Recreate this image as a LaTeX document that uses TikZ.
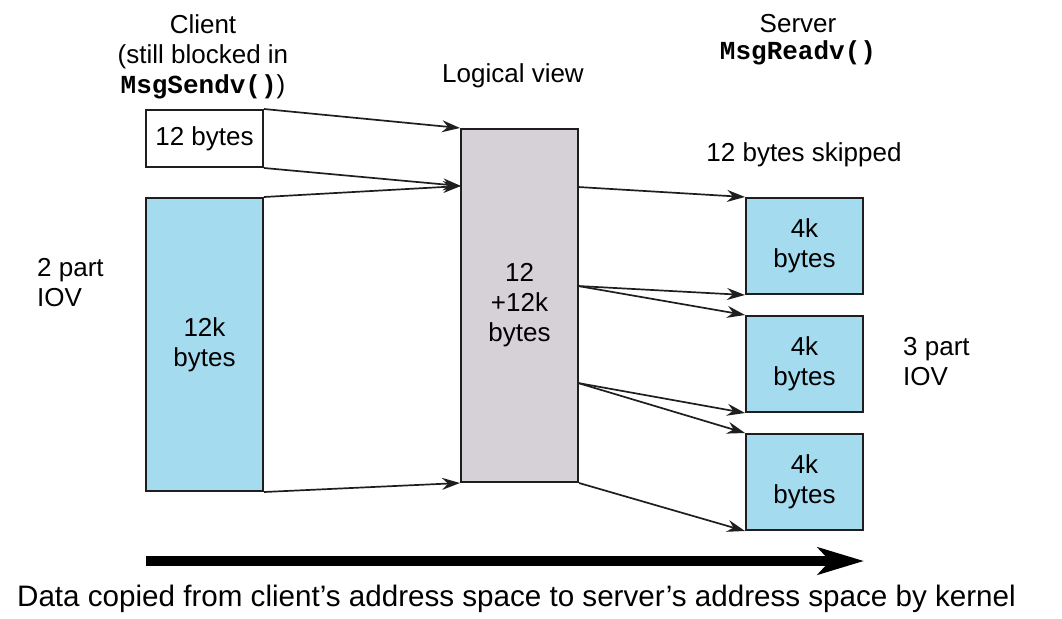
\documentclass[tikz,border=0pt]{standalone}
\usepackage{fontspec}
\setmainfont{Liberation Sans}
\setmonofont{Liberation Mono}
\definecolor{iovblue}{HTML}{A5DBEF}
\definecolor{viewgray}{HTML}{D5D1D6}
\definecolor{edgegray}{HTML}{1E1E1E}
\usetikzlibrary{arrows.meta,positioning,calc}
\newcommand{\fncall}[1]{{\ttfamily\bfseries #1}}

\begin{document}
\begin{tikzpicture}[
  x=1pt, y=-1pt,
  buf/.style={draw=edgegray, fill=#1, line width=2pt, inner sep=0pt,
    minimum width=117pt, align=center, font=\fontsize{26}{30}\selectfont},
  lbl/.style={inner sep=0pt, align=#1, font=\fontsize{26}{30}\selectfont},
  arr/.style={-{Stealth[length=18pt,width=12pt,inset=6pt]}, line width=1.7pt, edgegray}
]
  \useasboundingbox (0,0) rectangle (1062,618);

  % Client side
  \node[buf=white, minimum height=57pt] (hdr) at (204.5,138.5) {12 bytes};
  \node[buf=iovblue, minimum height=293pt] (sendbuf) at (204.5,344.5) {12k\\bytes};

  % Logical view
  \node[buf=viewgray, minimum height=353pt] (logic) at (519.5,305.5) {12\\+12k\\bytes};

  % Server side
  \node[buf=iovblue, minimum height=96pt] (rbuf1) at (804.5,246) {4k\\bytes};
  \node[buf=iovblue, minimum height=96pt] (rbuf2) at (804.5,364) {4k\\bytes};
  \node[buf=iovblue, minimum height=96pt] (rbuf3) at (804.5,482) {4k\\bytes};

  % Points on the logical view
  \coordinate (lin) at (461,186);
  \coordinate (lout1) at (578,187);
  \coordinate (lout2) at (578,286);
  \coordinate (lout3) at (578,383);

  % Arrows
  \draw[arr] (hdr.north east) -- (logic.north west);
  \draw[arr] (hdr.south east) -- (lin);
  \draw[arr] (sendbuf.north east) -- (lin);
  \draw[arr] (sendbuf.south east) -- (logic.south west);
  \draw[arr] (lout1) -- (rbuf1.north west);
  \draw[arr] (lout2) -- (rbuf1.south west);
  \draw[arr] (lout2) -- (rbuf2.north west);
  \draw[arr] (lout3) -- (rbuf2.south west);
  \draw[arr] (lout3) -- (rbuf3.north west);
  \draw[arr] (logic.south east) -- (rbuf3.south west);

  % Headings
  \node[lbl=center, anchor=north] (client) at (203,14)
    {Client\\(still blocked in\\\fncall{MsgSendv()})};
  \node[lbl=center, anchor=base] (view) at (513,82) {Logical view};
  \node[lbl=center, anchor=north] (server) at (798,14) {Server\\[-3pt]\fncall{MsgReadv()}};
  \node[lbl=center, anchor=base] (skip) at (804,161) {12 bytes skipped};

  % Side notes
  \node[lbl=left, anchor=north west] (iov2) at (37,258) {2 part\\IOV};
  \node[lbl=left, anchor=north west] (iov3) at (903,337) {3 part\\IOV};

  % Copy direction
  \coordinate (flowL) at (146,561);
  \coordinate (flowR) at (864,561);
  \draw[-{Stealth[length=46pt,width=27pt,inset=12pt]}, line width=10pt] (flowL) -- (flowR);
  \node[lbl=center, anchor=base, font=\fontsize{29.6}{34}\selectfont] (caption) at (516.5,606)
    {Data copied from client’s address space to server’s address space by kernel};
\end{tikzpicture}
\end{document}
